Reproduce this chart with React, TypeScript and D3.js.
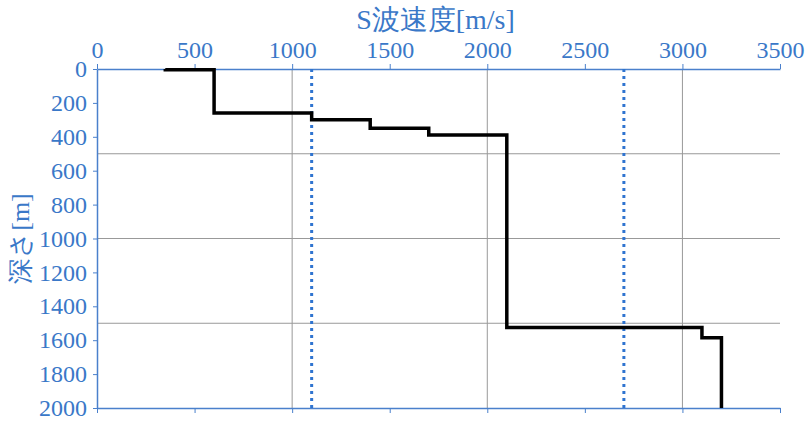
import { useEffect, useRef } from 'react';
import * as d3 from 'd3';

// layer boundaries (depth, m) and S-wave velocity in each layer (m/s)
const layerTops = [0, 5, 260, 300, 350, 390, 1525, 1585];
const layerBottoms = [5, 260, 300, 350, 390, 1525, 1585, 2000];
const velocities = [350, 600, 1100, 1400, 1700, 2100, 3100, 3200];

// dotted reference velocities
const refVelocities = [1100, 2700];

const xTicks = [0, 500, 1000, 1500, 2000, 2500, 3000, 3500];
const yTicks = [0, 200, 400, 600, 800, 1000, 1200, 1400, 1600, 1800, 2000];
const xGrid = [1000, 2000, 3000];
const yGrid = [500, 1000, 1500];

const blue = '#3a78c8';
const axisBlue = '#4a80cc';
const font = "'Liberation Serif', 'DejaVu Serif', serif";

export default function App() {
	const svgRef = useRef<SVGSVGElement>(null);

	useEffect(() => {
		if (!svgRef.current) return;
		const width = 810;
		const height = 426;
		const margin = { top: 69, right: 30, bottom: 18, left: 97 };
		const chartWidth = 683;
		const chartHeight = 339;

		d3.select(svgRef.current).selectAll('*').remove();

		const root = d3
			.select(svgRef.current)
			.attr('width', width)
			.attr('height', height)
			.style('font-family', font);

		const svg = root.append('g').attr('transform', `translate(${margin.left},${margin.top})`);

		const xScale = d3.scaleLinear().domain([0, 3500]).range([0, chartWidth]);
		const yScale = d3.scaleLinear().domain([0, 2000]).range([0, chartHeight]);

		// grid lines
		svg
			.append('g')
			.selectAll('line')
			.data(xGrid)
			.join('line')
			.attr('x1', (d) => xScale(d))
			.attr('x2', (d) => xScale(d))
			.attr('y1', 0)
			.attr('y2', chartHeight)
			.attr('stroke', '#999')
			.attr('stroke-width', 1);

		svg
			.append('g')
			.selectAll('line')
			.data(yGrid)
			.join('line')
			.attr('x1', 0)
			.attr('x2', chartWidth)
			.attr('y1', (d) => yScale(d))
			.attr('y2', (d) => yScale(d))
			.attr('stroke', '#999')
			.attr('stroke-width', 1);

		// bottom axis line (no labels)
		const bottom = svg
			.append('g')
			.attr('transform', `translate(0,${chartHeight})`)
			.call(d3.axisBottom(xScale).tickValues(xTicks).tickSize(5).tickSizeOuter(0).tickFormat(() => ''));
		bottom.select('.domain').attr('stroke', axisBlue).attr('stroke-width', 1.5);
		bottom.selectAll('.tick line').attr('stroke', axisBlue);

		// top axis
		const top = svg.append('g').call(
			d3
				.axisTop(xScale)
				.tickValues(xTicks)
				.tickSize(5)
				.tickSizeOuter(0)
				.tickPadding(6)
				.tickFormat(d3.format('d') as any)
		);
		top.attr('font-family', null).attr('font-size', null);
		top.select('.domain').attr('stroke', axisBlue).attr('stroke-width', 1.5);
		top.selectAll('.tick line').attr('stroke', axisBlue);
		top.selectAll('text').attr('fill', blue).style('font-family', font).style('font-size', '24px');

		// left axis
		const left = svg.append('g').call(
			d3
				.axisLeft(yScale)
				.tickValues(yTicks)
				.tickSize(4)
				.tickSizeOuter(0)
				.tickPadding(6)
				.tickFormat(d3.format('d') as any)
		);
		left.attr('font-family', null).attr('font-size', null);
		left.select('.domain').attr('stroke', axisBlue).attr('stroke-width', 1.5);
		left.selectAll('.tick line').attr('stroke', axisBlue);
		left.selectAll('text').attr('fill', blue).style('font-family', font).style('font-size', '24px');

		// reference velocities
		svg
			.append('g')
			.selectAll('line')
			.data(refVelocities)
			.join('line')
			.attr('x1', (d) => xScale(d))
			.attr('x2', (d) => xScale(d))
			.attr('y1', 0)
			.attr('y2', chartHeight)
			.attr('stroke', '#2f74d0')
			.attr('stroke-width', 3)
			.attr('stroke-dasharray', '3,4');

		// velocity profile as a step line
		const points: [number, number][] = [];
		velocities.forEach((v, i) => {
			points.push([v, layerTops[i]]);
			points.push([v, layerBottoms[i]]);
		});
		const line = d3
			.line<[number, number]>()
			.x((d) => xScale(d[0]))
			.y((d) => yScale(d[1]));

		svg
			.append('path')
			.datum(points)
			.attr('fill', 'none')
			.attr('stroke', '#000')
			.attr('stroke-width', 3.5)
			.attr('stroke-linejoin', 'miter')
			.attr('d', line);

		// axis titles
		root
			.append('text')
			.attr('x', margin.left + chartWidth / 2 - 3)
			.attr('y', 29)
			.attr('text-anchor', 'middle')
			.style('font-family', font)
			.style('font-size', '28px')
			.attr('fill', blue)
			.text('S波速度[m/s]');

		root
			.append('text')
			.attr('transform', `translate(29,${margin.top + chartHeight / 2}) rotate(-90)`)
			.attr('text-anchor', 'middle')
			.style('font-family', font)
			.style('font-size', '26px')
			.attr('fill', blue)
			.text('深さ[m]');
	}, []);

	return (
		<div style={{ position: 'absolute', left: 0, top: 0, width: 810, height: 426, background: '#fff' }}>
			<svg ref={svgRef}></svg>
		</div>
	);
}
